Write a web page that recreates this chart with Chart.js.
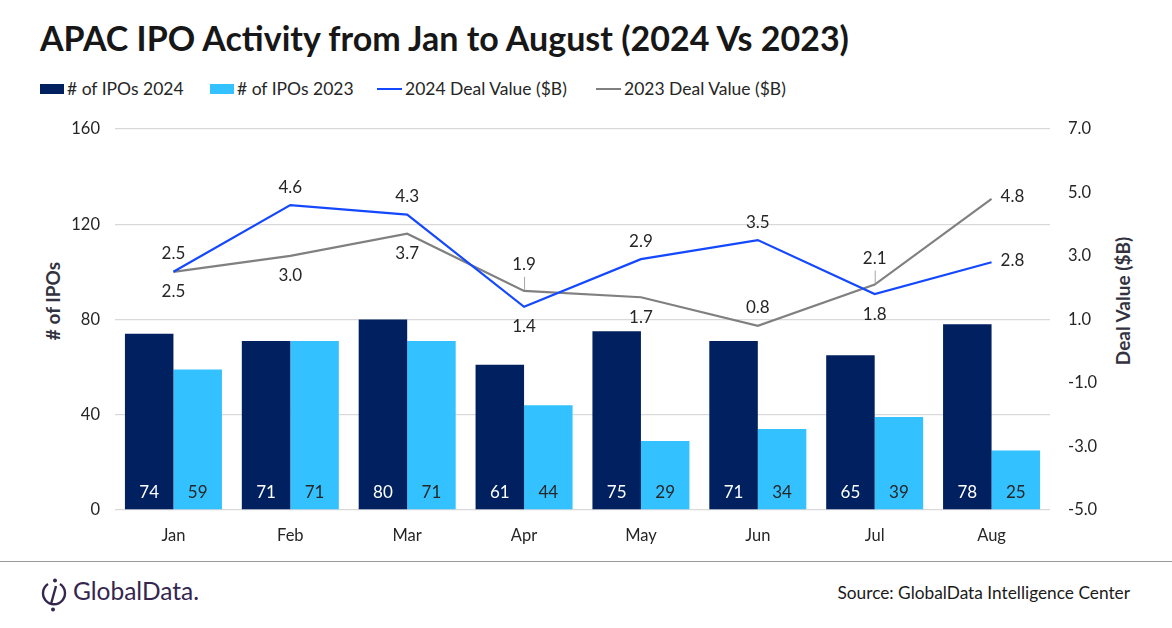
<!DOCTYPE html>
<html>
<head>
<meta charset="utf-8">
<script src="https://cdn.jsdelivr.net/npm/chart.js@4.4.1/dist/chart.umd.min.js"></script>
<style>
  body { margin: 0; width: 1172px; height: 628px; background: #fff; font-family: Lato, "Open Sans", sans-serif; position: relative; overflow: hidden; color: #262626; }
  .title { position: absolute; left: 40px; top: 17px; font-size: 34px; font-weight: bold; color: #171717; white-space: nowrap; }
  .legend { position: absolute; top: 78px; font-size: 17.5px; color: #262626; white-space: nowrap; }
  .legend span.box { display: inline-block; width: 24px; height: 10px; margin-right: 3px; vertical-align: 1px; }
  .legend span.ln { display: inline-block; width: 25px; height: 2px; margin-right: 3px; vertical-align: 5px; }
  .axt { position: absolute; font-size: 19px; font-weight: bold; color: #333340; white-space: nowrap; transform: translate(-50%, -50%) rotate(-90deg); }
  #wrap { position: absolute; left: 0; top: 101px; width: 1172px; height: 449px; }
  .rule { position: absolute; left: 0; top: 561px; width: 1172px; height: 1px; background: #9a9a9a; }
  .logo { position: absolute; left: 40px; top: 578px; }
  .logotxt { position: absolute; left: 73px; top: 576px; font-size: 24.5px; color: #35264f; }
  .source { position: absolute; right: 42px; top: 582px; font-size: 17.3px; color: #1a1a1a; }
</style>
</head>
<body>
<div class="title">APAC IPO Activity from Jan to August (2024 Vs 2023)</div>
<div class="legend" style="left:40px"><span class="box" style="background:#002060"></span># of IPOs 2024</div>
<div class="legend" style="left:210px"><span class="box" style="background:#33c1ff"></span># of IPOs 2023</div>
<div class="legend" style="left:377px"><span class="ln" style="background:#1448ff"></span>2024 Deal Value ($B)</div>
<div class="legend" style="left:596px"><span class="ln" style="background:#808080"></span>2023 Deal Value ($B)</div>
<div class="axt" style="left:52px; top:301px"># of IPOs</div>
<div class="axt" style="left:1122px; top:301px">Deal Value ($B)</div>
<div id="wrap"><canvas id="c"></canvas></div>
<div class="rule"></div>
<svg class="logo" width="28" height="34" viewBox="0 0 28 34">
  <path d="M8 6 A11 11 0 1 0 20 6" fill="none" stroke="#35264f" stroke-width="2.4"/>
  <line x1="16" y1="8" x2="11" y2="26" stroke="#35264f" stroke-width="2.4"/>
  <circle cx="15" cy="2.5" r="2" fill="#35264f"/>
  <circle cx="13" cy="31.5" r="2" fill="#35264f"/>
</svg>
<div class="logotxt">GlobalData.</div>
<div class="source">Source: GlobalData Intelligence Center</div>

<script>
var months = ['Jan', 'Feb', 'Mar', 'Apr', 'May', 'Jun', 'Jul', 'Aug'];
var ipos2024 = [74, 71, 80, 61, 75, 71, 65, 78];
var ipos2023 = [59, 71, 71, 44, 29, 34, 39, 25];
var deal2024 = [2.5, 4.6, 4.3, 1.4, 2.9, 3.5, 1.8, 2.8];
var deal2023 = [2.5, 3.0, 3.7, 1.9, 1.7, 0.8, 2.1, 4.8];
var leftTicks = [0, 40, 80, 120, 160];
var rightTicks = [-5, -3, -1, 1, 3, 5, 7];

// where each line label sits relative to its point
var pos2024 = ['below', 'above', 'above', 'below', 'above', 'above', 'below', 'right'];
var pos2023 = ['above', 'below', 'below', 'lead', 'below', 'above', 'lead', 'right'];

var labelPlugin = {
    id: 'labels',
    afterDatasetsDraw: function (chart) {
        var ctx = chart.ctx;
        var area = chart.chartArea;
        ctx.save();
        ctx.font = '17px Lato, "Open Sans", sans-serif';

        // bar values at the foot of each bar
        [0, 1].forEach(function (di) {
            var meta = chart.getDatasetMeta(di);
            var vals = chart.data.datasets[di].data;
            ctx.fillStyle = di === 0 ? '#ffffff' : '#262626';
            ctx.textAlign = 'center';
            ctx.textBaseline = 'middle';
            meta.data.forEach(function (bar, i) {
                ctx.fillText(vals[i], bar.x, area.bottom - 17);
            });
        });

        // line values
        [[2, pos2024], [3, pos2023]].forEach(function (pair) {
            var meta = chart.getDatasetMeta(pair[0]);
            var vals = chart.data.datasets[pair[0]].data;
            var pos = pair[1];
            meta.data.forEach(function (pt, i) {
                var txt = vals[i].toFixed(1);
                ctx.fillStyle = '#262626';
                ctx.textBaseline = 'middle';
                ctx.textAlign = 'center';
                if (pos[i] === 'above') {
                    ctx.fillText(txt, pt.x, pt.y - 18);
                } else if (pos[i] === 'below') {
                    ctx.fillText(txt, pt.x, pt.y + 20);
                } else if (pos[i] === 'lead') {
                    ctx.fillText(txt, pt.x, pt.y - 26);
                    ctx.strokeStyle = '#a6a6a6';
                    ctx.lineWidth = 1;
                    ctx.beginPath();
                    ctx.moveTo(pt.x + 0.5, pt.y - 14);
                    ctx.lineTo(pt.x + 0.5, pt.y - 1);
                    ctx.stroke();
                } else {
                    ctx.textAlign = 'left';
                    ctx.fillText(txt, pt.x + 9, pt.y - 2);
                }
            });
        });
        ctx.restore();
    }
};

new Chart(document.getElementById('c'), {
    type: 'bar',
    data: {
        labels: months,
        datasets: [{
            label: '# of IPOs 2024',
            data: ipos2024,
            backgroundColor: '#002060',
            yAxisID: 'y',
            order: 2
        }, {
            label: '# of IPOs 2023',
            data: ipos2023,
            backgroundColor: '#33c1ff',
            yAxisID: 'y',
            order: 2
        }, {
            type: 'line',
            label: '2024 Deal Value ($B)',
            data: deal2024,
            borderColor: '#1448ff',
            borderWidth: 2.2,
            pointRadius: 0,
            tension: 0,
            yAxisID: 'y1',
            order: 1
        }, {
            type: 'line',
            label: '2023 Deal Value ($B)',
            data: deal2023,
            borderColor: '#808080',
            borderWidth: 2.2,
            pointRadius: 0,
            tension: 0,
            yAxisID: 'y1',
            order: 1
        }]
    },
    options: {
        responsive: true,
        maintainAspectRatio: false,
        animation: false,
        layout: { padding: { top: 0, left: 0, right: 0, bottom: 0 } },
        datasets: { bar: { barPercentage: 1, categoryPercentage: 0.83 } },
        plugins: { legend: { display: false }, tooltip: { enabled: false } },
        scales: {
            x: {
                grid: { display: false, drawTicks: false },
                border: { display: false },
                ticks: { padding: 16, color: '#262626', font: { size: 16.5, family: 'Lato' } },
                afterFit: function (s) { s.height = 40; }
            },
            y: {
                position: 'left',
                min: 0,
                max: 160,
                afterBuildTicks: function (s) { s.ticks = leftTicks.map(function (v) { return { value: v }; }); },
                grid: { color: '#d9d9d9', drawTicks: false, lineWidth: 1.3 },
                border: { display: false },
                ticks: { padding: 15, color: '#262626', font: { size: 16.5, family: 'Lato' } },
                afterFit: function (s) { s.width = 115; }
            },
            y1: {
                position: 'right',
                min: -5,
                max: 7,
                afterBuildTicks: function (s) { s.ticks = rightTicks.map(function (v) { return { value: v }; }); },
                grid: { display: false, drawTicks: false },
                border: { display: false },
                ticks: {
                    padding: 18,
                    color: '#262626',
                    font: { size: 16.5, family: 'Lato' },
                    callback: function (v) { return Number(v).toFixed(1); }
                },
                afterFit: function (s) { s.width = 122; }
            }
        }
    },
    plugins: [labelPlugin]
});
</script>
</body>
</html>
